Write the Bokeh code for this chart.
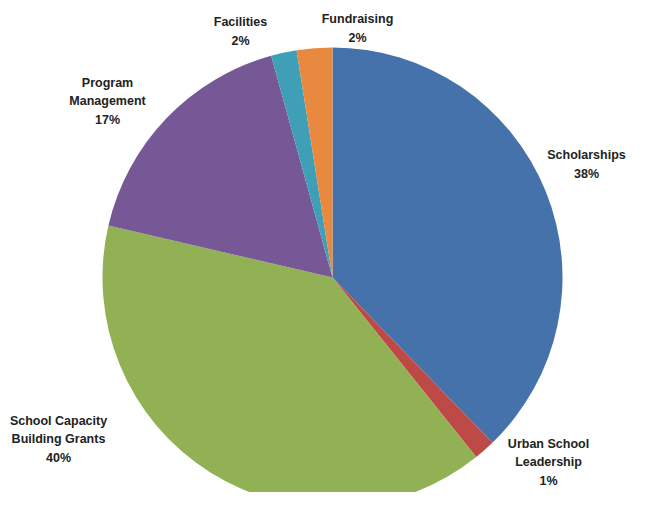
import math
from bokeh.plotting import figure
from bokeh.models import Range1d, ColumnDataSource
from bokeh.core.properties import value
from bokeh.embed import file_html
from bokeh.resources import INLINE

# ---- data ----
categories = ["Scholarships", "Urban School\nLeadership", "School Capacity\nBuilding Grants",
              "Program\nManagement", "Facilities", "Fundraising"]
shares = [37.8, 1.5, 39.4, 17.1, 1.8, 2.5]
pct_labels = ["38%", "1%", "40%", "17%", "2%", "2%"]

# ---- styles / layout ----
colors = ["#4672AC", "#BE4A47", "#92B155", "#775896", "#3E9FB7", "#E8893F"]
label_x = [586, 548, 58, 107, 240, 357]
label_y = [164, 462, 439, 101, 31, 28]

W, H = 643, 492
p = figure(width=W, height=H, output_backend="svg", toolbar_location=None,
           x_range=Range1d(0, W), y_range=Range1d(508 - H, 508), min_border=0)
p.axis.visible = False
p.grid.visible = False
p.outline_line_color = None
p.background_fill_color = "white"
p.border_fill_color = "white"

cx, cy_img, r = 332, 277, 230
total = sum(shares)
starts, ends = [], []
cum = 0.0
for s in shares:
    a0 = math.pi / 2 - 2 * math.pi * cum / total
    cum += s
    a1 = math.pi / 2 - 2 * math.pi * cum / total
    starts.append(a0)
    ends.append(a1)

src = ColumnDataSource(dict(x=[cx] * len(shares), y=[508 - cy_img] * len(shares),
                            start=starts, end=ends, color=colors))
p.wedge(x="x", y="y", radius=r, start_angle="start", end_angle="end",
        direction="clock", fill_color="color", line_color=None, source=src)

texts = [c + "\n" + pl for c, pl in zip(categories, pct_labels)]
lsrc = ColumnDataSource(dict(x=label_x, y=[508 - v for v in label_y], t=texts))
p.text(x="x", y="y", text="t", source=lsrc, text_align="center", text_baseline="middle",
       text_font=value("Liberation Sans"), text_font_style="bold", text_font_size="12.5px",
       text_color="#222222", text_line_height=1.35)

open("out.html", "w").write(file_html(p, INLINE))
